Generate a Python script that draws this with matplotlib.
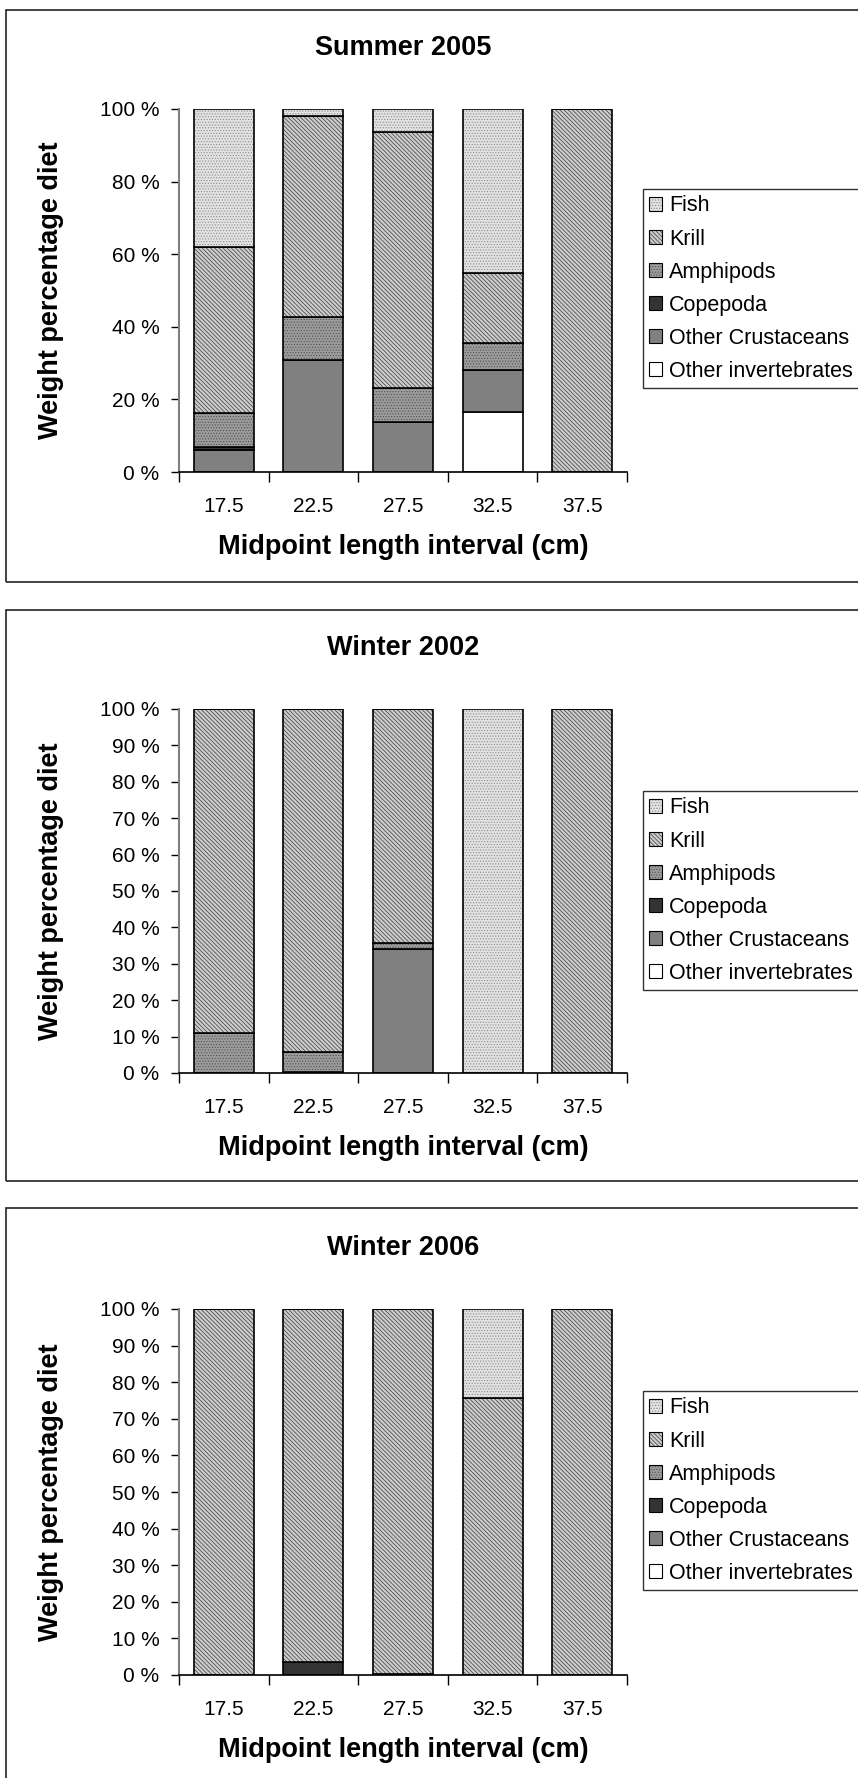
import numpy as np
import matplotlib
matplotlib.use("Agg")
import matplotlib.pyplot as plt
from matplotlib.patches import Patch, Rectangle

plt.rcParams["font.family"] = ["Liberation Sans", "DejaVu Sans"]
plt.rcParams["hatch.linewidth"] = 0.5

# data (weight % of diet), bars left to right
lengths = ["17.5", "22.5", "27.5", "32.5", "37.5"]
prey = ["Other invertebrates", "Other Crustaceans", "Copepoda", "Amphipods", "Krill", "Fish"]

summer05_othi = [0, 0, 0, 16.5, 0]
summer05_othc = [6.0, 30.9, 13.9, 11.6, 0]
summer05_cope = [0.8, 0, 0, 0, 0]
summer05_amph = [9.4, 11.8, 9.2, 7.4, 0]
summer05_krill = [45.9, 55.3, 70.7, 19.3, 100]
summer05_fish = [37.9, 2.0, 6.2, 45.2, 0]

winter02_othi = [0, 0, 0, 0, 0]
winter02_othc = [0, 0, 34.2, 0, 0]
winter02_cope = [0, 0.4, 0, 0, 0]
winter02_amph = [11.0, 5.3, 1.5, 0, 0]
winter02_krill = [89.0, 94.3, 64.3, 0, 100]
winter02_fish = [0, 0, 0, 100, 0]

winter06_othi = [0, 0, 0, 0, 0]
winter06_othc = [0, 0, 0, 0, 0]
winter06_cope = [0, 3.5, 0.3, 0, 0]
winter06_amph = [0, 0, 0, 0, 0]
winter06_krill = [100, 96.5, 99.7, 75.8, 100]
winter06_fish = [0, 0, 0, 24.2, 0]

panels = [
    ("Summer 2005", [summer05_othi, summer05_othc, summer05_cope, summer05_amph, summer05_krill, summer05_fish], 20),
    ("Winter 2002", [winter02_othi, winter02_othc, winter02_cope, winter02_amph, winter02_krill, winter02_fish], 10),
    ("Winter 2006", [winter06_othi, winter06_othc, winter06_cope, winter06_amph, winter06_krill, winter06_fish], 10),
]

# fill styles: (face, hatch, hatch colour)
styles = {
    "Other invertebrates": ("white", None, "white"),
    "Other Crustaceans": ("#808080", None, "#808080"),
    "Copepoda": ("#333333", None, "#333333"),
    "Amphipods": ("#9c9c9c", "......", "#505050"),
    "Krill": ("#cccccc", "\\\\\\\\\\\\\\\\", "#3c3c3c"),
    "Fish": ("#e2e2e2", "......", "#8c8c8c"),
}

W, H = 858, 1778
fig = plt.figure(figsize=(W / 100, H / 100), dpi=100)

# panel layout in pixels: (axes top, axes bottom, box top, box bottom, legend top)
layout = [(109, 472, 10, 582, 189), (709, 1073, 610, 1181, 791), (1309, 1675, 1208, 1800, 1391)]
ax_left, ax_right = 179, 627

for (title, series, step), (atop, abot, btop, bbot, ltop) in zip(panels, layout):
    fig.add_artist(Rectangle((6 / W, 1 - bbot / H), (W + 20) / W, (bbot - btop) / H,
                             transform=fig.transFigure, fill=False, edgecolor="#222222",
                             linewidth=1.2, clip_on=False))
    ax = fig.add_axes([ax_left / W, 1 - abot / H, (ax_right - ax_left) / W, (abot - atop) / H])
    x = np.arange(len(lengths))
    bottom = np.zeros(len(lengths))
    for name, vals in zip(prey, series):
        face, hatch, hc = styles[name]
        vals = np.array(vals, dtype=float)
        ax.bar(x, vals, 0.67, bottom=bottom, color=face, edgecolor=hc, hatch=hatch, linewidth=0)
        ax.bar(x, vals, 0.67, bottom=bottom, fill=False, edgecolor="black", linewidth=1.2)
        bottom += vals
    ax.set_xlim(-0.5, 4.5)
    ax.set_ylim(0, 100)
    yt = np.arange(0, 101, step)
    ax.set_yticks(yt)
    ax.set_yticklabels([f"{v} %" for v in yt])
    ax.set_xticks(x)
    ax.set_xticklabels(lengths)
    ax.set_xticks(np.arange(-0.5, 4.6, 1), minor=True)
    ax.tick_params(axis="x", which="major", length=0, pad=18, labelsize=15)
    ax.tick_params(axis="x", which="minor", length=7, direction="out", width=1)
    ax.tick_params(axis="y", length=6, width=1, pad=8, labelsize=15)
    for s in ["top", "right"]:
        ax.spines[s].set_visible(False)
    ax.spines["left"].set_color("#808080")
    ax.spines["left"].set_linewidth(1.5)
    ax.spines["bottom"].set_linewidth(1.2)
    ax.set_title(title, fontsize=19.5, fontweight="bold", pad=0,
                 y=(abot - (atop - 61)) / (abot - atop), va="center")
    ax.set_xlabel("Midpoint length interval (cm)", fontsize=19.5, fontweight="bold", labelpad=13)
    ax.set_ylabel("Weight percentage diet", fontsize=19.5, fontweight="bold", labelpad=26)

    handles = []
    for name in prey[::-1]:
        face, hatch, hc = styles[name]
        handles.append((Patch(facecolor=face, edgecolor=hc, hatch=hatch, linewidth=0),
                        Patch(fill=False, edgecolor="black", linewidth=0.8)))
    fig.legend(handles, prey[::-1], loc="upper left",
               bbox_to_anchor=(643 / W, 1 - ltop / H), bbox_transform=fig.transFigure,
               fontsize=15.5, frameon=True, fancybox=False, edgecolor="#333333",
               handlelength=0.6, handleheight=0.6, handletextpad=0.3, labelspacing=0.56,
               borderpad=0.3, borderaxespad=0, framealpha=1)

fig.savefig("out.png", dpi=100)
